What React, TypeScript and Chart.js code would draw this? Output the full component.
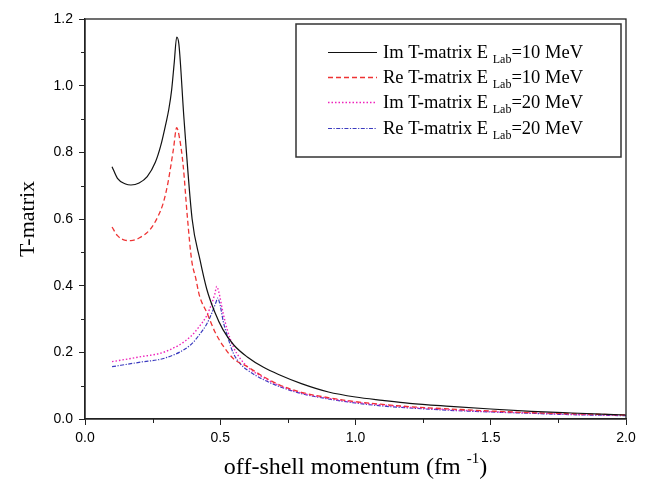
import React, { useEffect, useRef } from "react";
import { Chart, registerables } from "chart.js";

Chart.register(...registerables);

// Im / Re T-matrix at E_Lab = 10 MeV
const momentumIm10 = [0.10, 0.12, 0.15, 0.17, 0.20, 0.23, 0.26, 0.28, 0.30, 0.31, 0.32, 0.33, 0.339, 0.347, 0.366, 0.396, 0.425, 0.45, 0.48, 0.51, 0.55, 0.60, 0.66, 0.72, 0.80, 0.90, 1.00, 1.10, 1.20, 1.35, 1.50, 1.65, 1.80, 2.00];
const tImag10 = [0.757, 0.722, 0.705, 0.702, 0.708, 0.727, 0.77, 0.82, 0.89, 0.93, 0.985, 1.07, 1.146, 1.125, 0.90, 0.60, 0.478, 0.39, 0.32, 0.268, 0.222, 0.186, 0.155, 0.132, 0.106, 0.081, 0.066, 0.056, 0.047, 0.038, 0.030, 0.023, 0.018, 0.012];

const momentumRe10 = [0.10, 0.12, 0.15, 0.17, 0.20, 0.24, 0.27, 0.29, 0.307, 0.327, 0.339, 0.35, 0.363, 0.378, 0.394, 0.41, 0.423, 0.45, 0.48, 0.51, 0.55, 0.60, 0.66, 0.72, 0.80, 0.90, 1.00, 1.10, 1.20, 1.35, 1.50, 1.65, 1.80, 2.00];
const tReal10 = [0.576, 0.550, 0.536, 0.535, 0.543, 0.568, 0.608, 0.65, 0.71, 0.81, 0.874, 0.84, 0.76, 0.61, 0.478, 0.42, 0.37, 0.32, 0.262, 0.22, 0.18, 0.157, 0.127, 0.102, 0.080, 0.064, 0.052, 0.044, 0.037, 0.030, 0.024, 0.019, 0.016, 0.012];

// Im / Re T-matrix at E_Lab = 20 MeV
const momentumIm20 = [0.10, 0.20, 0.30, 0.39, 0.423, 0.45, 0.47, 0.48, 0.487, 0.495, 0.51, 0.525, 0.548, 0.575, 0.60, 0.66, 0.72, 0.80, 0.90, 1.00, 1.10, 1.20, 1.35, 1.50, 1.65, 1.80, 2.00];
const tImag20 = [0.172, 0.186, 0.203, 0.247, 0.278, 0.31, 0.35, 0.375, 0.398, 0.38, 0.32, 0.27, 0.217, 0.18, 0.157, 0.124, 0.100, 0.078, 0.062, 0.050, 0.042, 0.035, 0.028, 0.022, 0.018, 0.014, 0.011];

const momentumRe20 = [0.10, 0.20, 0.30, 0.39, 0.423, 0.45, 0.47, 0.485, 0.49, 0.50, 0.511, 0.53, 0.548, 0.575, 0.60, 0.66, 0.72, 0.80, 0.90, 1.00, 1.10, 1.20, 1.35, 1.50, 1.65, 1.80, 2.00];
const tReal20 = [0.157, 0.170, 0.184, 0.222, 0.253, 0.285, 0.32, 0.352, 0.363, 0.34, 0.293, 0.24, 0.198, 0.165, 0.147, 0.118, 0.097, 0.076, 0.060, 0.048, 0.039, 0.033, 0.026, 0.021, 0.017, 0.013, 0.010];

const legendLabels = [
  ["Im T-matrix E", "Lab", "=10 MeV"],
  ["Re T-matrix E", "Lab", "=10 MeV"],
  ["Im T-matrix E", "Lab", "=20 MeV"],
  ["Re T-matrix E", "Lab", "=20 MeV"],
];

const SERIF = '"Liberation Serif", "Times New Roman", serif';
const SANS = '"Liberation Sans", Arial, sans-serif';

const toPoints = (xs: number[], ys: number[]) => xs.map((x, i) => ({ x, y: ys[i] }));

const styles = [
  { color: "#111111", dash: [] as number[], width: 1.2 },
  { color: "#ee3333", dash: [5, 3], width: 1.3 },
  { color: "#ee22bb", dash: [1.5, 2], width: 1.4 },
  { color: "#3b3bbf", dash: [4, 1.5, 1.2, 1.5], width: 1.2 },
];

// frame, minor ticks, axis titles and the legend box
const decorations = {
  id: "decorations",
  afterDraw(chart: any) {
    const { ctx, chartArea, scales } = chart;
    const xs = scales.x;
    const ys = scales.y;
    ctx.save();
    // frame
    ctx.strokeStyle = "#222";
    ctx.lineWidth = 1.3;
    ctx.strokeRect(chartArea.left, chartArea.top, chartArea.right - chartArea.left, chartArea.bottom - chartArea.top);

    // minor ticks
    ctx.lineWidth = 1;
    ctx.beginPath();
    for (let v = 0.25; v < 2; v += 0.5) {
      const px = Math.round(xs.getPixelForValue(v)) + 0.5;
      ctx.moveTo(px, chartArea.bottom);
      ctx.lineTo(px, chartArea.bottom + 4);
    }
    for (let v = 0.1; v < 1.2; v += 0.2) {
      const py = Math.round(ys.getPixelForValue(v)) + 0.5;
      ctx.moveTo(chartArea.left, py);
      ctx.lineTo(chartArea.left - 4, py);
    }
    ctx.stroke();

    // y title
    ctx.fillStyle = "#000";
    ctx.font = `22px ${SERIF}`;
    ctx.save();
    ctx.translate(34, (chartArea.top + chartArea.bottom) / 2);
    ctx.rotate(-Math.PI / 2);
    ctx.textAlign = "center";
    ctx.textBaseline = "alphabetic";
    ctx.fillText("T-matrix", 0, 0);
    ctx.restore();

    // x title with superscript
    const main = "off-shell momentum (fm ";
    const sup = "-1";
    const close = ")";
    ctx.font = `24px ${SERIF}`;
    const wMain = ctx.measureText(main).width;
    const wClose = ctx.measureText(close).width;
    ctx.font = `15px ${SERIF}`;
    const wSup = ctx.measureText(sup).width;
    const total = wMain + wSup + wClose;
    const cx = (chartArea.left + chartArea.right) / 2;
    let tx = cx - total / 2;
    const base = 474;
    ctx.textAlign = "left";
    ctx.font = `24px ${SERIF}`;
    ctx.fillText(main, tx, base);
    tx += wMain;
    ctx.font = `15px ${SERIF}`;
    ctx.fillText(sup, tx, base - 11);
    tx += wSup;
    ctx.font = `24px ${SERIF}`;
    ctx.fillText(close, tx, base);

    // legend box
    const bx = 296, by = 24, bw = 325, bh = 133;
    ctx.strokeStyle = "#333";
    ctx.lineWidth = 1.5;
    ctx.strokeRect(bx, by, bw, bh);

    const rows = [52, 77, 102, 128];
    legendLabels.forEach((parts, i) => {
      const st = styles[i];
      const y = rows[i];
      ctx.save();
      ctx.strokeStyle = st.color;
      ctx.lineWidth = st.width;
      ctx.setLineDash(st.dash);
      ctx.beginPath();
      ctx.moveTo(328, y + 0.5);
      ctx.lineTo(377, y + 0.5);
      ctx.stroke();
      ctx.restore();

      ctx.fillStyle = "#000";
      ctx.textBaseline = "alphabetic";
      let lx = 383;
      const bl = y + 6;
      ctx.font = `18.5px ${SERIF}`;
      ctx.fillText(parts[0] + " ", lx, bl);
      lx += ctx.measureText(parts[0] + " ").width;
      ctx.font = `12px ${SERIF}`;
      ctx.fillText(parts[1], lx, bl + 5);
      lx += ctx.measureText(parts[1]).width;
      ctx.font = `18.5px ${SERIF}`;
      ctx.fillText(parts[2], lx, bl);
    });
    ctx.restore();
  },
};

export default function App() {
  const canvasRef = useRef<HTMLCanvasElement | null>(null);

  useEffect(() => {
    if (!canvasRef.current) return;
    const series = [
      toPoints(momentumIm10, tImag10),
      toPoints(momentumRe10, tReal10),
      toPoints(momentumIm20, tImag20),
      toPoints(momentumRe20, tReal20),
    ];
    const chart = new Chart(canvasRef.current, {
      type: "line",
      data: {
        datasets: series.map((data, i) => ({
          label: legendLabels[i].join(""),
          data,
          borderColor: styles[i].color,
          borderWidth: styles[i].width,
          borderDash: styles[i].dash,
          pointRadius: 0,
          fill: false,
          cubicInterpolationMode: "monotone" as const,
        })),
      },
      options: {
        animation: false,
        responsive: false,
        maintainAspectRatio: false,
        layout: { padding: { top: 19, right: 22, left: 0, bottom: 0 } },
        plugins: {
          legend: { display: false },
          tooltip: { enabled: false },
        },
        scales: {
          x: {
            type: "linear",
            min: 0,
            max: 2,
            afterFit: (scale: any) => {
              scale.height = 69;
            },
            ticks: {
              stepSize: 0.5,
              color: "#000",
              font: { family: SANS, size: 14 },
              padding: 5,
              maxRotation: 0,
              callback: (v: any) => Number(v).toFixed(1),
            },
            grid: {
              drawOnChartArea: false,
              drawTicks: true,
              tickLength: 6,
              tickColor: "#222",
            },
            border: { display: true, color: "#222", width: 1.3 },
          },
          y: {
            type: "linear",
            min: 0,
            max: 1.2,
            afterFit: (scale: any) => {
              scale.width = 85;
            },
            ticks: {
              stepSize: 0.2,
              color: "#000",
              font: { family: SANS, size: 14 },
              padding: 6,
              callback: (v: any) => Number(v).toFixed(1),
            },
            grid: {
              drawOnChartArea: false,
              drawTicks: true,
              tickLength: 6,
              tickColor: "#222",
            },
            border: { display: true, color: "#222", width: 1.3 },
          },
        },
      },
      plugins: [decorations],
    });
    return () => chart.destroy();
  }, []);

  return (
    <div style={{ position: "absolute", left: 0, top: 0, width: 648, height: 488, background: "#fff" }}>
      <canvas ref={canvasRef} width={648} height={488} style={{ display: "block" }} />
    </div>
  );
}
